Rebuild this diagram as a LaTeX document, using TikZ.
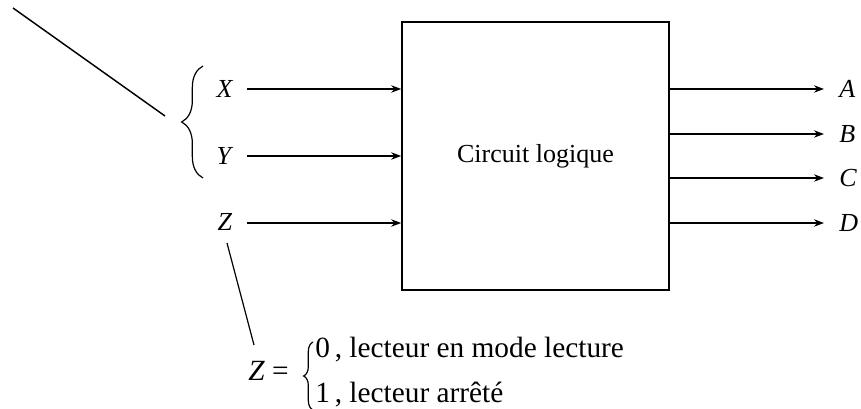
\documentclass[tikz,border=0pt]{standalone}
\usepackage{fontspec}
\setmainfont{Liberation Serif}
\usetikzlibrary{arrows.meta,decorations.pathreplacing}
\begin{document}
\begin{tikzpicture}[x=0.75pt,y=-0.75pt,
  font=\fontsize{19.5}{23}\selectfont,
  wire/.style={line width=1.3pt,-{Stealth[length=7.5pt,width=5.5pt]}},
  lbl/.style={inner sep=0pt},
  eqtxt/.style={inner sep=0pt,anchor=base west,font=\fontsize{22}{26}\selectfont},
  thin/.style={line width=0.9pt}]
\useasboundingbox (0,0) rectangle (861,409);
% box
\node[draw,line width=1.4pt,minimum width=200pt,minimum height=201pt,inner sep=0pt] (box) at (535.5,156) {Circuit logique};
% inputs
\node[lbl] (xl) at (225,89) {\textit{X}};
\node[lbl] (yl) at (225,156) {\textit{Y}};
\node[lbl] (zl) at (225,222) {\textit{Z}};
\coordinate (xs) at (247,89);
\coordinate (ys) at (247,156);
\coordinate (zs) at (247,223);
\draw[wire] (xs) -- (xs -| box.west);
\draw[wire] (ys) -- (ys -| box.west);
\draw[wire] (zs) -- (zs -| box.west);
% outputs
\node[lbl,anchor=west] (al) at (839,89) {\textit{A}};
\node[lbl,anchor=west] (bl) at (839,134) {\textit{B}};
\node[lbl,anchor=west] (cl) at (839,178) {\textit{C}};
\node[lbl,anchor=west] (dl) at (839,223) {\textit{D}};
\coordinate (ae) at (824,89);
\coordinate (be) at (824,134);
\coordinate (ce) at (824,178);
\coordinate (de) at (824,223);
\draw[wire] (ae -| box.east) -- (ae);
\draw[wire] (be -| box.east) -- (be);
\draw[wire] (ce -| box.east) -- (ce);
\draw[wire] (de -| box.east) -- (de);
% brace for X, Y
\coordinate (bb) at (203,178);
\coordinate (bt) at (203,66);
\draw[line width=0.9pt,decorate,decoration={brace,amplitude=16pt,aspect=0.5}] (bb) -- (bt);
% diagonal pointer
\coordinate (d1) at (13,8);
\coordinate (d2) at (165,116);
\draw[line width=1.1pt] (d1) -- (d2);
% Z pointer
\coordinate (z1) at (227,243);
\coordinate (z2) at (254,345);
\draw[thin] (z1) -- (z2);
% equation
\node[eqtxt] (zeq) at (248,381) {\textit{Z} =};
\coordinate (eb) at (313,410);
\coordinate (et) at (313,342);
\draw[line width=0.9pt,decorate,decoration={brace,amplitude=7pt,aspect=0.5}] (eb) -- (et);
\node[eqtxt] (l0) at (315,358) {0\,, lecteur en mode lecture};
\node[eqtxt] (l1) at (315,403) {1\,, lecteur arrêté};
\end{tikzpicture}
\end{document}
